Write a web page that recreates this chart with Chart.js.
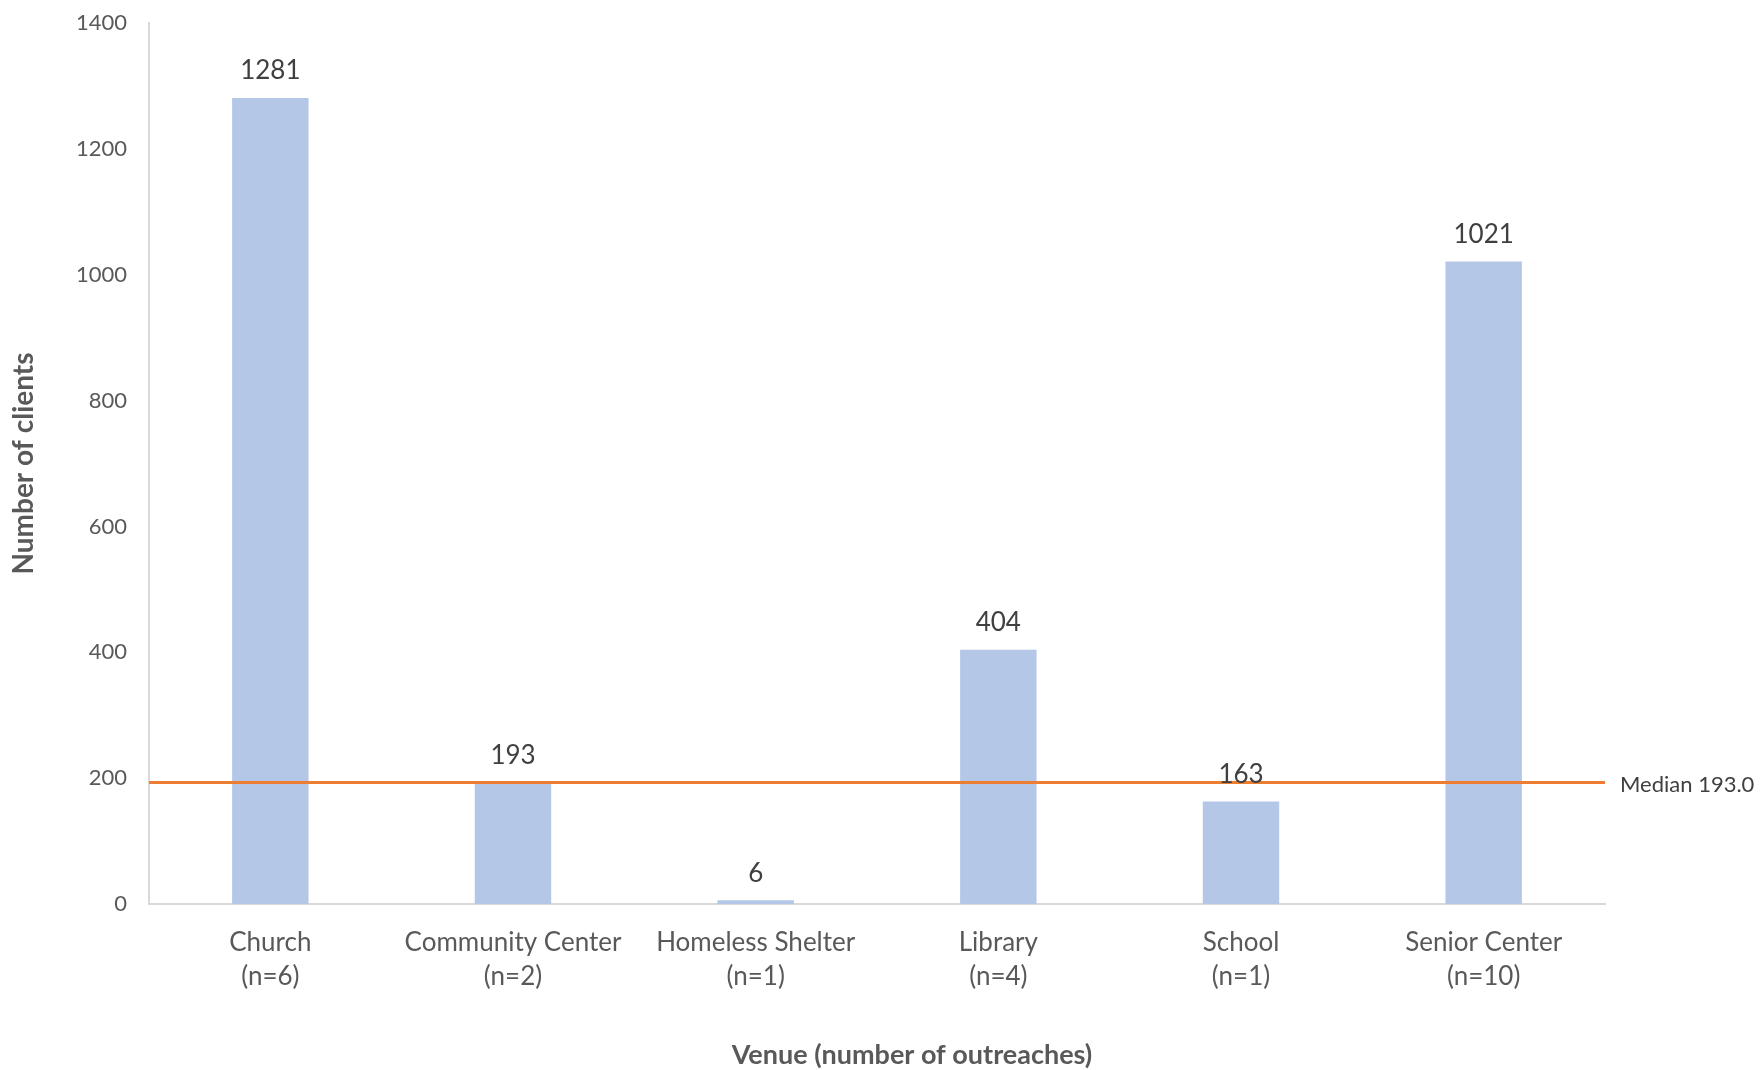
<!DOCTYPE html>
<html>
<head>
<meta charset="utf-8">
<script src="https://cdn.jsdelivr.net/npm/chart.js@4/dist/chart.umd.min.js"></script>
<style>
  html, body { margin: 0; padding: 0; background: #fff; }
  #wrap { width: 1760px; height: 1070px; }
</style>
</head>
<body>
<div id="wrap"><canvas id="chart" width="1760" height="1070"></canvas></div>
<script>
// ===== DADOS =====
const venues   = ['Church', 'Community Center', 'Homeless Shelter', 'Library', 'School', 'Senior Center'];
const outreach = [6, 2, 1, 4, 1, 10];
const clients  = [1281, 193, 6, 404, 163, 1021];
const median   = 193.0;
const yTicks   = [0, 200, 400, 600, 800, 1000, 1200, 1400];

const FONT = 'Lato, "Open Sans", sans-serif';
const GREY = '#595959';

const categoryLabels = venues.map((v, i) => [v, `(n=${outreach[i]})`]);

// ===== PLUGIN: rótulos, mediana, título X =====
const extras = {
  id: 'extras',
  afterDatasetsDraw(chart) {
    const { ctx, chartArea, scales } = chart;
    const meta = chart.getDatasetMeta(0);

    // linha da mediana
    const yMed = scales.y.getPixelForValue(median);
    ctx.save();
    ctx.strokeStyle = '#ED7D31';
    ctx.lineWidth = 3;
    ctx.beginPath();
    ctx.moveTo(chartArea.left, yMed);
    ctx.lineTo(chartArea.right, yMed);
    ctx.stroke();

    ctx.fillStyle = '#404040';
    ctx.font = `22px ${FONT}`;
    ctx.textAlign = 'left';
    ctx.textBaseline = 'middle';
    ctx.fillText(`Median ${median.toFixed(1)}`, chartArea.right + 15, yMed + 2);

    // valores das barras
    ctx.font = `26px ${FONT}`;
    ctx.textAlign = 'center';
    meta.data.forEach((bar, i) => {
      ctx.fillText(String(clients[i]), bar.x, bar.y - 27);
    });

    // título eixo X
    ctx.fillStyle = GREY;
    ctx.font = `bold 27px ${FONT}`;
    ctx.fillText('Venue (number of outreaches)', 912, 1055);
    ctx.restore();
  }
};

// ===== GRÁFICO =====
new Chart(document.getElementById('chart').getContext('2d'), {
  type: 'bar',
  data: {
    labels: categoryLabels,
    datasets: [{
      data: clients,
      backgroundColor: '#B4C7E7',
      borderWidth: 0,
      categoryPercentage: 1,
      barPercentage: 0.315
    }]
  },
  options: {
    responsive: false,
    animation: false,
    devicePixelRatio: 1,
    layout: { padding: { left: 0, right: 155, top: 23, bottom: 0 } },
    plugins: {
      legend: { display: false },
      tooltip: { enabled: false }
    },
    scales: {
      x: {
        grid: { display: false, drawTicks: false },
        border: { color: '#D9D9D9', width: 2 },
        ticks: {
          color: GREY,
          font: { family: FONT, size: 26, lineHeight: 1.33 },
          padding: 21,
          maxRotation: 0,
          autoSkip: false
        },
        afterFit: s => { s.height = 166; }
      },
      y: {
        min: 0,
        max: 1400,
        afterBuildTicks: s => { s.ticks = yTicks.map(v => ({ value: v })); },
        grid: { display: false, drawTicks: false },
        border: { color: '#D9D9D9', width: 2 },
        ticks: {
          color: GREY,
          font: { family: FONT, size: 22 },
          padding: 22,
          callback: v => String(v)
        },
        title: {
          display: true,
          text: 'Number of clients',
          color: GREY,
          font: { family: FONT, size: 28, weight: 'bold' },
          padding: { top: 7, bottom: 0 }
        },
        afterFit: s => { s.width = 149; s.paddingTop = 0; }
      }
    }
  },
  plugins: [extras]
});
</script>
</body>
</html>
